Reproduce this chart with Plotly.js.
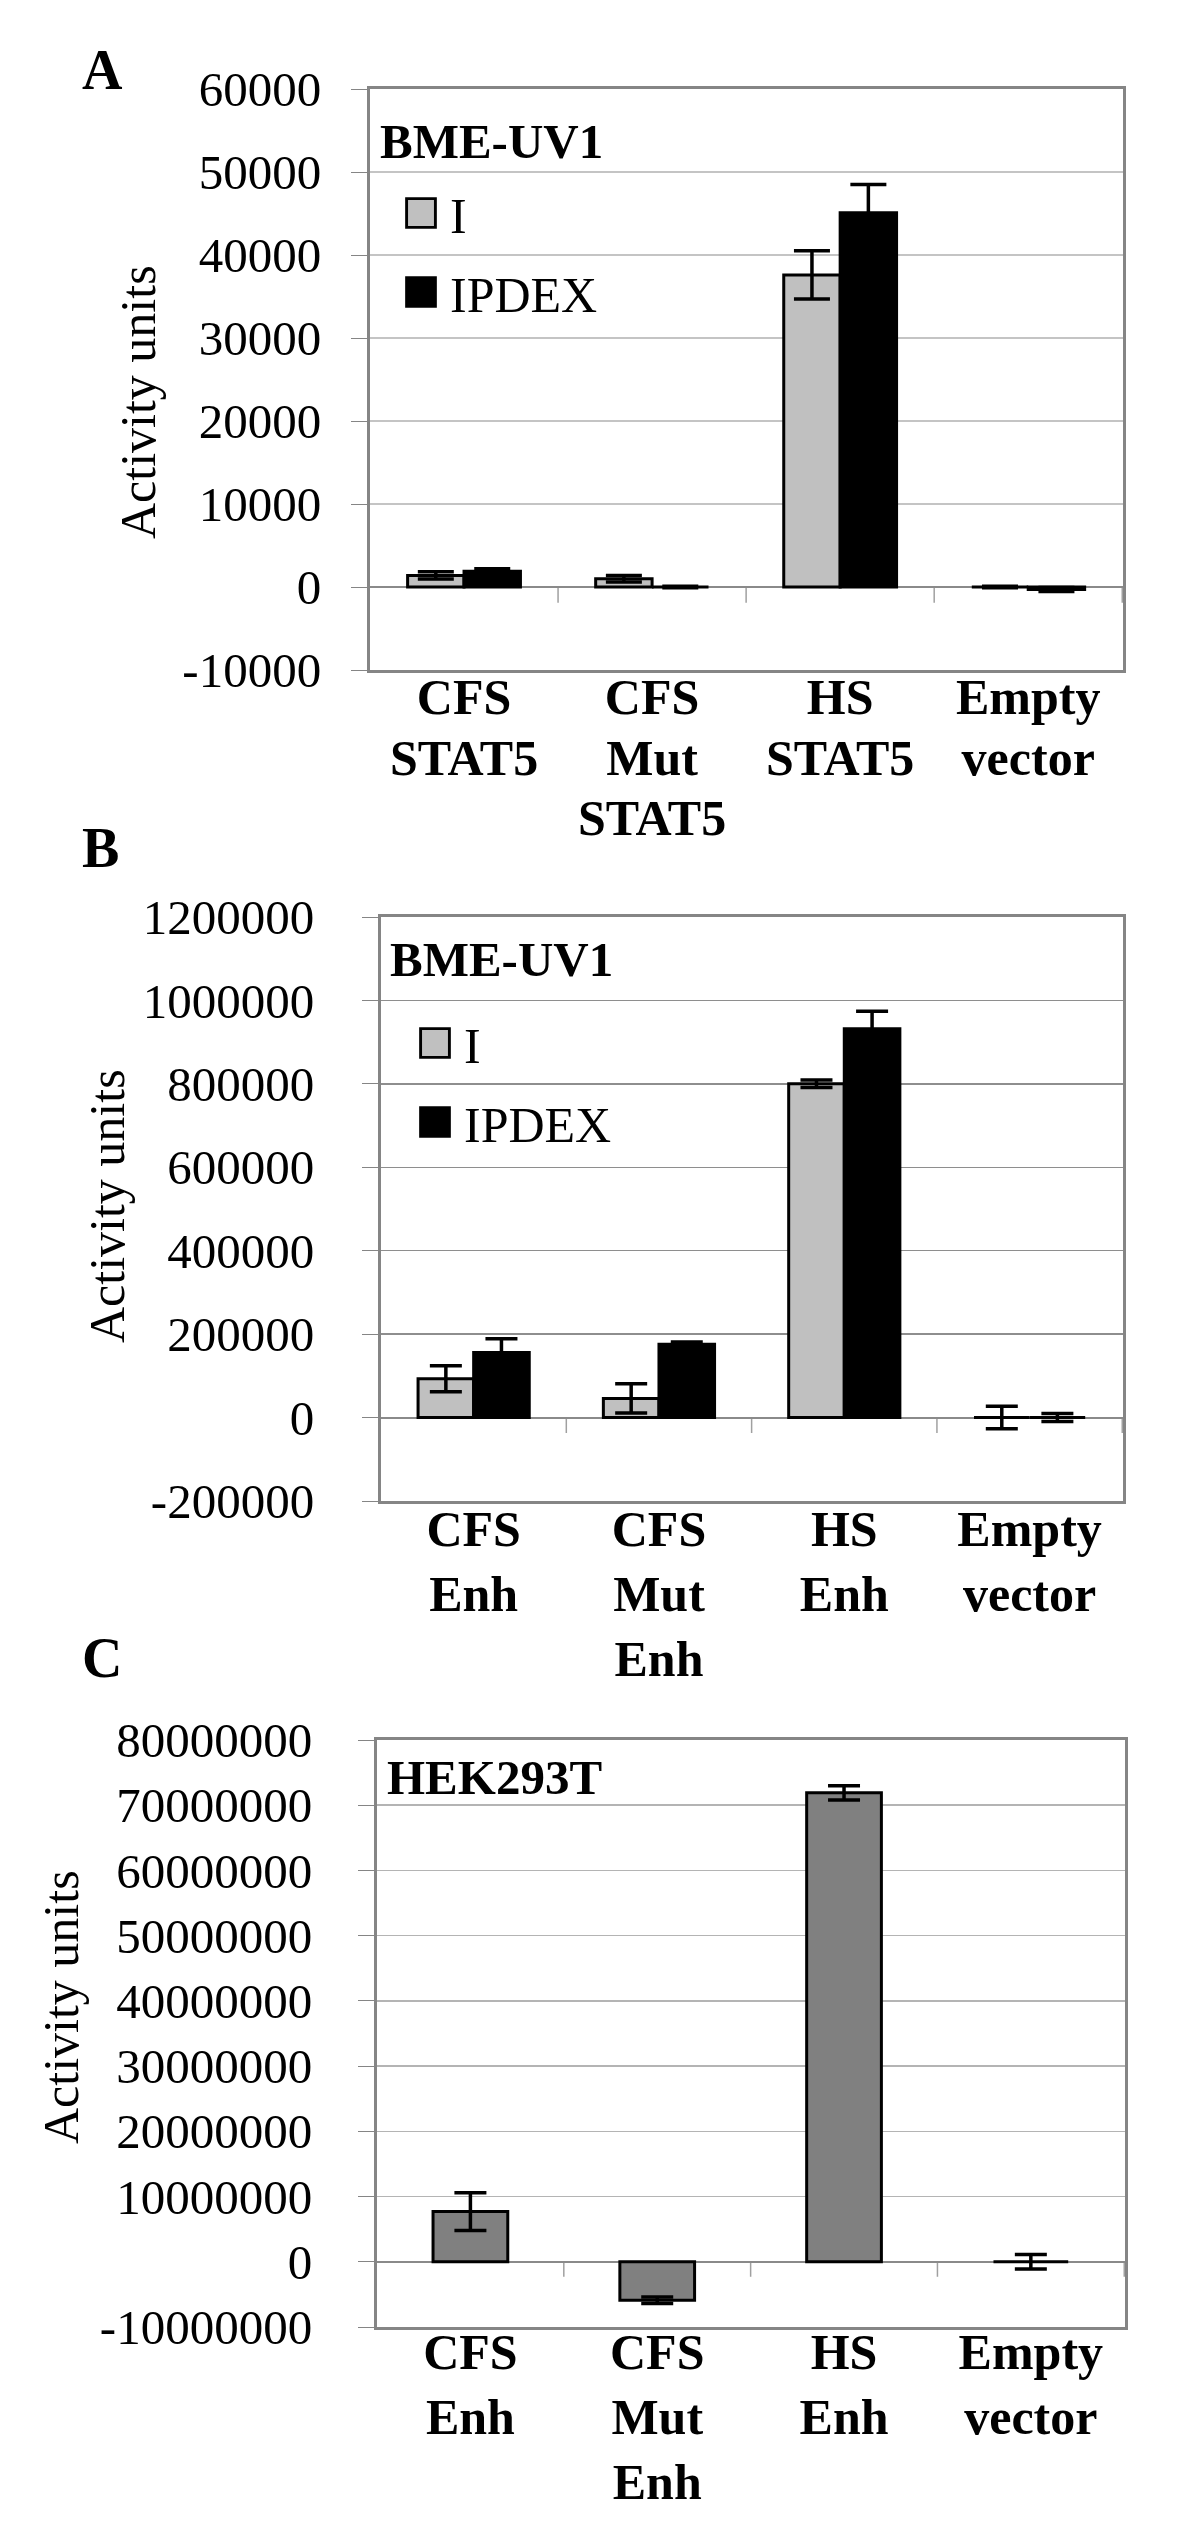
<!DOCTYPE html>
<html><head><meta charset="utf-8">
<script src="https://cdn.plot.ly/plotly-3.0.1.min.js"></script>
<style>body{margin:0;background:#fff}#chart{width:1200px;height:2539px}</style>
</head><body><div id="chart"></div>
<script>
// ---------- data ----------
const categoriesA = ['CFS<br>STAT5', 'CFS<br>Mut<br>STAT5', 'HS<br>STAT5', 'Empty<br>vector'];
const categoriesB = ['CFS<br>Enh', 'CFS<br>Mut<br>Enh', 'HS<br>Enh', 'Empty<br>vector'];
const categoriesC = ['CFS<br>Enh', 'CFS<br>Mut<br>Enh', 'HS<br>Enh', 'Empty<br>vector'];
const seriesNames = ['I', 'IPDEX'];
const cellLineA = 'BME-UV1';
const cellLineB = 'BME-UV1';
const cellLineC = 'HEK293T';

const aI = [1400, 1000, 37600, 0];
const aIErr = [450, 400, 2900, 100];
const aIPDEX = [1900, 0, 45100, -300];
const aIPDEXErr = [300, 100, 3400, 250];

const bI = [93000, 46000, 800000, 0];
const bIErr = [31000, 35000, 9000, 27000];
const bIPDEX = [156000, 176000, 932000, 0];
const bIPDEXErr = [33000, 5000, 42000, 9500];

const cHEK = [7700000, -5900000, 71900000, 0];
const cHEKErr = [2900000, 500000, 1100000, 1100000];

const ticksA = [-10000, 0, 10000, 20000, 30000, 40000, 50000, 60000];
const tickTextA = ['-10000', '0', '10000', '20000', '30000', '40000', '50000', '60000'];
const ticksB = [-200000, 0, 200000, 400000, 600000, 800000, 1000000, 1200000];
const tickTextB = ['-200000', '0', '200000', '400000', '600000', '800000', '1000000', '1200000'];
const ticksC = [-10000000, 0, 10000000, 20000000, 30000000, 40000000, 50000000, 60000000, 70000000, 80000000];
const tickTextC = ['-10000000', '0', '10000000', '20000000', '30000000', '40000000', '50000000', '60000000', '70000000', '80000000'];

// ---------- styling ----------
const FONT = 'Liberation Serif';
const W = 1200, H = 2539;
const px = v => v / W;
const py = v => 1 - v / H;
const GRAY_I = '#c0c0c0', BLACK = '#000000', GRAY_C = '#808080';

function errBar(arr, w) {
  return {type: 'data', array: arr, visible: true, color: '#000', thickness: 3.5, width: w};
}
function barTrace(x, y, err, name, color, xa, ya, width, offset, legend, showlegend, ew) {
  return {
    type: 'bar', x: x, y: y, name: name, xaxis: xa, yaxis: ya,
    width: width, offset: offset,
    marker: {color: color, line: {color: '#000', width: 3}},
    error_y: errBar(err, ew), legend: legend, showlegend: showlegend,
    legendgroup: name + legend
  };
}

const data = [
  barTrace(categoriesA, aI, aIErr, seriesNames[0], GRAY_I, 'x', 'y', 0.3, -0.3, 'legend', true, 18),
  barTrace(categoriesA, aIPDEX, aIPDEXErr, seriesNames[1], BLACK, 'x', 'y', 0.3, 0, 'legend', true, 18),
  barTrace(categoriesB, bI, bIErr, seriesNames[0], GRAY_I, 'x2', 'y2', 0.3, -0.3, 'legend2', true, 16),
  barTrace(categoriesB, bIPDEX, bIPDEXErr, seriesNames[1], BLACK, 'x2', 'y2', 0.3, 0, 'legend2', true, 16),
  barTrace(categoriesC, cHEK, cHEKErr, 'HEK293T', GRAY_C, 'x3', 'y3', 0.4, -0.2, 'legend', false, 16)
];

function xAxis(domain, anchor, standoff) {
  return {
    domain: domain, anchor: anchor, type: 'category',
    showline: true, mirror: true, linecolor: '#858585', linewidth: 3,
    ticks: '', showgrid: false, zeroline: false,
    tickfont: {family: FONT, size: 50, color: '#000', weight: 'bold'},
    ticklabelstandoff: standoff, fixedrange: true
  };
}
function yAxis(domain, anchor, range, vals, text, gridcolor, standoff) {
  return {
    domain: domain, anchor: anchor, range: range,
    tickmode: 'array', tickvals: vals, ticktext: text,
    showline: true, mirror: true, linecolor: '#858585', linewidth: 3,
    ticks: 'outside', ticklen: 16, tickwidth: 1, tickcolor: '#858585',
    showgrid: true, gridcolor: gridcolor, gridwidth: 1.5,
    zeroline: true, zerolinecolor: '#8a8a8a', zerolinewidth: 2,
    tickfont: {family: FONT, size: 49, color: '#000'},
    ticklabelstandoff: standoff, fixedrange: true
  };
}

// small category-boundary ticks under the zero line
function catTicks(xref, yref, depth) {
  const out = [];
  [0.5, 1.5, 2.5, 3.5].forEach(b => out.push({
    type: 'line', xref: xref, yref: yref, x0: b, x1: b, y0: 0, y1: -depth,
    line: {color: '#a0a0a0', width: 1.5}, layer: 'below'
  }));
  return out;
}

function ann(text, x, y, size, bold, opts) {
  return Object.assign({
    text: text, xref: 'paper', yref: 'paper', x: x, y: y, showarrow: false,
    xanchor: 'left', yanchor: 'middle',
    font: {family: FONT, size: size, color: '#000', weight: bold ? 'bold' : 'normal'}
  }, opts || {});
}

const legendBase = {
  xanchor: 'left', yanchor: 'top', bgcolor: 'rgba(0,0,0,0)',
  font: {family: FONT, size: 50, color: '#000'},
  traceorder: 'grouped', tracegroupgap: 11, itemwidth: 45, itemclick: false
};

const layout = {
  width: W, height: H, margin: {l: 0, r: 0, t: 0, b: 0},
  paper_bgcolor: '#fff', plot_bgcolor: '#fff',
  barmode: 'group', showlegend: true,
  font: {family: FONT},
  xaxis: xAxis([px(370), px(1123)], 'y', -19),
  yaxis: yAxis([py(670), py(89)], 'x', [-10000, 60000], ticksA, tickTextA, '#c4c4c4', 20),
  xaxis2: xAxis([px(381), px(1123)], 'y2', -18),
  yaxis2: yAxis([py(1501), py(917)], 'x2', [-200000, 1200000], ticksB, tickTextB, '#8e8e8e', 38),
  xaxis3: xAxis([px(377), px(1125)], 'y3', -21),
  yaxis3: yAxis([py(2327), py(1740)], 'x3', [-10000000, 80000000], ticksC, tickTextC, '#b4b4b4', 36),
  legend: Object.assign({x: px(395), y: py(174)}, legendBase),
  legend2: Object.assign({x: px(409), y: py(1004)}, legendBase),
  shapes: [].concat(catTicks('x', 'y', 1900), catTicks('x2', 'y2', 37000), catTicks('x3', 'y3', 2300000)),
  annotations: [
    ann('A', px(80), py(70), 56, true),
    ann('B', px(80), py(848), 56, true),
    ann('C', px(80), py(1658), 56, true),
    ann(cellLineA, px(378), py(142), 49, true),
    ann(cellLineB, px(388), py(959), 49, true),
    ann(cellLineC, px(385), py(1777), 49, true),
    ann('Activity units', px(138), py(402), 50, false, {textangle: -90, xanchor: 'center'}),
    ann('Activity units', px(107), py(1206), 50, false, {textangle: -90, xanchor: 'center'}),
    ann('Activity units', px(61), py(2007), 50, false, {textangle: -90, xanchor: 'center'})
  ]
};

Plotly.newPlot('chart', data, layout, {displayModeBar: false, staticPlot: true}).then(gd => {
  // enlarge legend swatches to match the reference's large square keys
  gd.querySelectorAll('g.legendpoints path').forEach(p => {
    p.setAttribute('transform', 'translate(26,0) scale(2.4)');
    p.style.strokeWidth = '1.2px';
  });
  // panel A category labels use a slightly tighter line spacing
  gd.querySelectorAll('g.xtick text tspan.line').forEach(t => {
    const dy = parseFloat(t.getAttribute('dy'));
    if (dy > 0) t.setAttribute('dy', (dy * 1.21 / 1.3) + 'em');
  });
});
</script>
</body></html>
